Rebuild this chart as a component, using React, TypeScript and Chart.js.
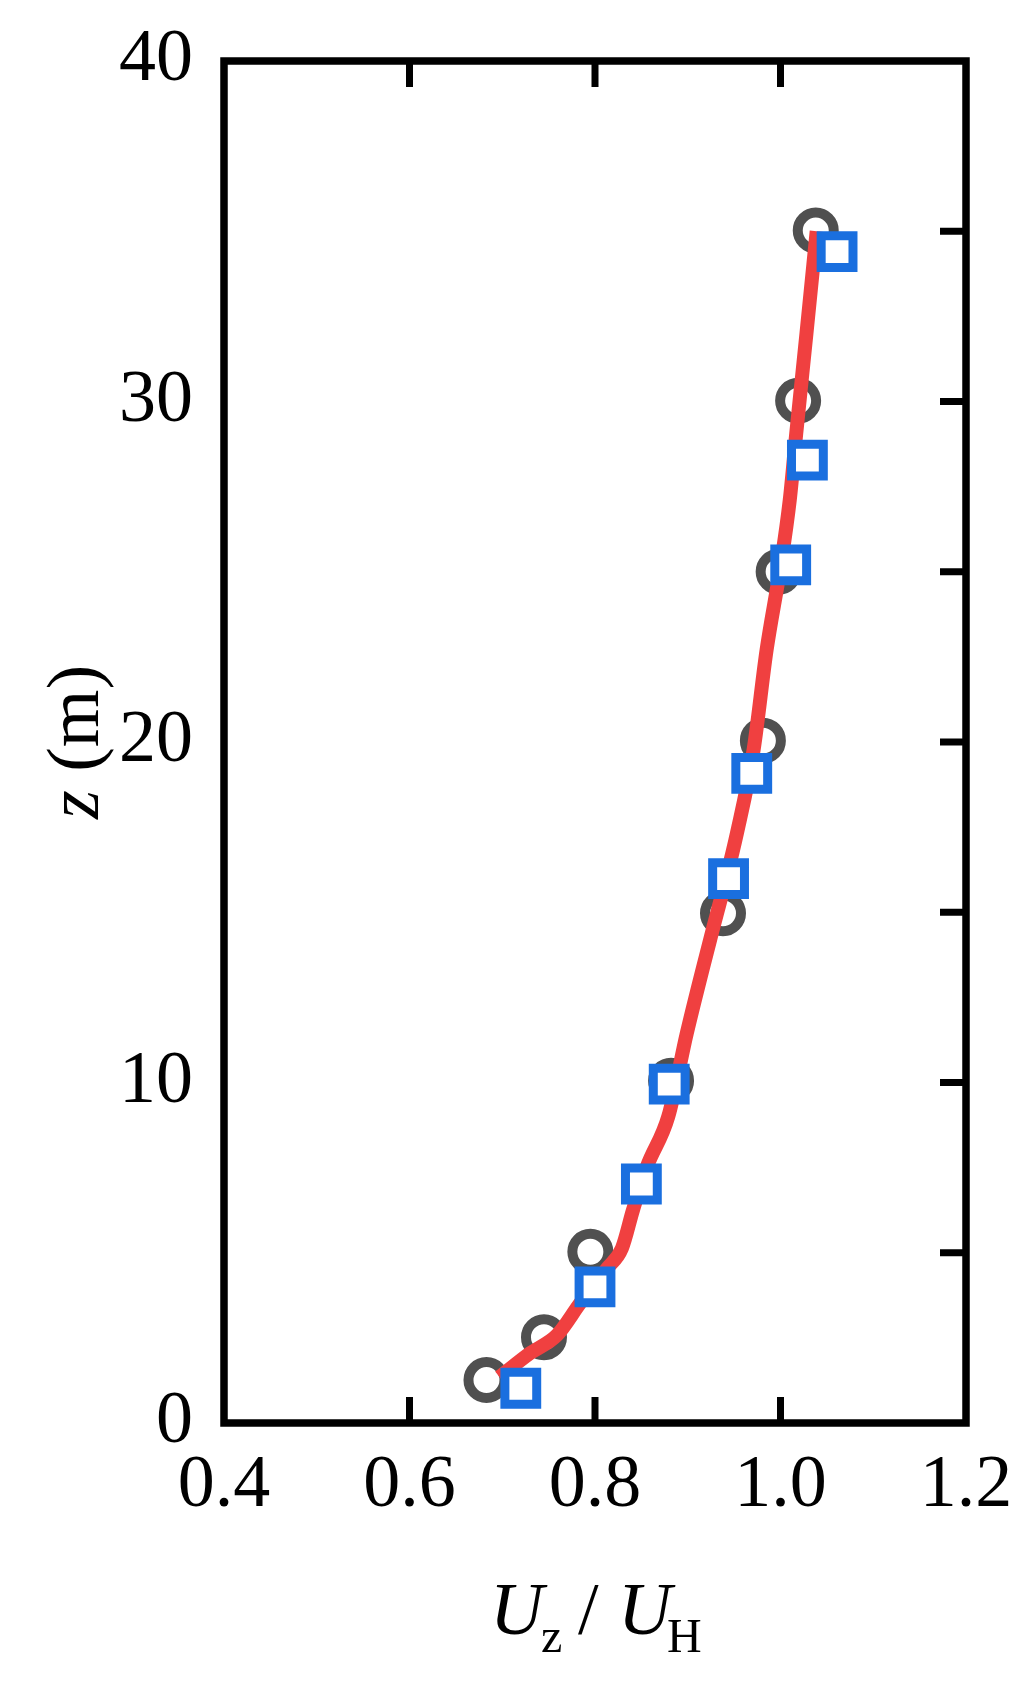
import React, { useEffect, useRef } from "react";
import { Chart, registerables } from "chart.js";

Chart.register(...registerables);

// Measured profile (circles)
const circleX = [0.683, 0.745, 0.795, 0.882, 0.938, 0.981, 0.998, 1.019, 1.038];
const circleZ = [1.26, 2.52, 5.03, 10.05, 14.97, 20.04, 25.0, 30.02, 35.02];

// Second measured profile (squares)
const squareX = [0.72, 0.8, 0.85, 0.88, 0.944, 0.969, 1.011, 1.029, 1.061];
const squareZ = [1.02, 4.0, 7.02, 9.95, 15.99, 19.08, 25.2, 28.28, 34.4];

// Fitted profile (red line)
const lineX = [0.697, 0.73, 0.759, 0.784, 0.813, 0.829, 0.841, 0.856, 0.879, 0.899, 0.924, 0.94, 0.953, 0.971, 0.985, 1.0, 1.01, 1.017, 1.028, 1.039];
const lineZ = [1.35, 2.05, 2.58, 3.52, 4.54, 5.13, 6.26, 7.53, 9.0, 11.45, 14.18, 15.85, 17.32, 19.77, 22.7, 25.15, 27.11, 29.07, 32.0, 35.0];

// Axis ticks
const xTickValues = [0.4, 0.6, 0.8, 1.0, 1.2];
const yTickValues = [0, 10, 20, 30, 40];
const xInnerTicks = [0.6, 0.8, 1.0];
const yRightTicks = [5, 10, 15, 20, 25, 30, 35];

const SERIF = "'Liberation Serif', 'Times New Roman', Times, serif";

const zip = (xs: number[], ys: number[]) => xs.map((x, i) => ({ x, y: ys[i] }));

const framePlugin = {
  id: "frame",
  afterDraw(chart: any) {
    const { ctx, chartArea } = chart;
    const xs = chart.scales.x;
    const ys = chart.scales.y;
    const { left, right, top, bottom } = chartArea;
    ctx.save();
    ctx.strokeStyle = "#000";
    ctx.lineCap = "butt";
    // inward ticks
    ctx.lineWidth = 7;
    const tl = 26;
    ctx.beginPath();
    xInnerTicks.forEach((v) => {
      const px = xs.getPixelForValue(v);
      ctx.moveTo(px, bottom);
      ctx.lineTo(px, bottom - tl);
      ctx.moveTo(px, top);
      ctx.lineTo(px, top + tl);
    });
    yRightTicks.forEach((v) => {
      const py = ys.getPixelForValue(v);
      ctx.moveTo(right, py);
      ctx.lineTo(right - tl, py);
    });
    ctx.stroke();
    // frame
    ctx.lineWidth = 7.5;
    ctx.lineJoin = "miter";
    ctx.strokeRect(left, top, right - left, bottom - top);

    // x-axis title: U_z / U_H
    ctx.fillStyle = "#000";
    ctx.textBaseline = "alphabetic";
    ctx.textAlign = "left";
    const base = 1634;
    const sub = 1652;
    ctx.font = `italic 74px ${SERIF}`;
    ctx.fillText("U", 490, base);
    ctx.font = `48px ${SERIF}`;
    ctx.fillText("z", 541, sub);
    ctx.font = `74px ${SERIF}`;
    ctx.fillText("/", 578, base);
    ctx.font = `italic 74px ${SERIF}`;
    ctx.fillText("U", 618, base);
    ctx.font = `48px ${SERIF}`;
    ctx.fillText("H", 667, sub);

    // y-axis title: z (m)
    ctx.translate(98, (top + bottom) / 2);
    ctx.rotate(-Math.PI / 2);
    ctx.font = `italic 74px ${SERIF}`;
    const wz = ctx.measureText("z").width;
    ctx.font = `74px ${SERIF}`;
    const wr = ctx.measureText(" (m)").width;
    const start = -(wz + wr) / 2;
    ctx.font = `italic 74px ${SERIF}`;
    ctx.fillText("z", start, 0);
    ctx.font = `74px ${SERIF}`;
    ctx.fillText(" (m)", start + wz, 0);
    ctx.restore();
  },
};

export default function App() {
  const ref = useRef<HTMLCanvasElement | null>(null);

  useEffect(() => {
    if (!ref.current) return;
    const chart = new Chart(ref.current, {
      type: "scatter",
      data: {
        datasets: [
          {
            label: "squares",
            data: zip(squareX, squareZ),
            pointStyle: "rect",
            pointRadius: 22.5,
            pointHoverRadius: 22.5,
            pointBorderWidth: 9,
            borderColor: "#1a6fdf",
            backgroundColor: "#ffffff",
            order: 1,
          } as any,
          {
            label: "line",
            data: zip(lineX, lineZ),
            showLine: true,
            pointRadius: 0,
            borderWidth: 14,
            borderColor: "#f04040",
            backgroundColor: "#f04040",
            cubicInterpolationMode: "monotone",
            borderJoinStyle: "round",
            order: 2,
          } as any,
          {
            label: "circles",
            data: zip(circleX, circleZ),
            pointStyle: "circle",
            pointRadius: 18,
            pointHoverRadius: 18,
            pointBorderWidth: 10,
            borderColor: "#505050",
            backgroundColor: "#ffffff",
            order: 3,
          } as any,
        ],
      },
      options: {
        responsive: false,
        animation: false,
        events: [],
        layout: { padding: { left: 0, top: 61, right: 68, bottom: 0 } },
        plugins: { legend: { display: false }, tooltip: { enabled: false } },
        scales: {
          x: {
            type: "linear",
            min: 0.4,
            max: 1.2,
            grid: { display: false, drawTicks: false },
            border: { display: false },
            afterBuildTicks: (s: any) => {
              s.ticks = xTickValues.map((v) => ({ value: v }));
            },
            afterFit: (s: any) => {
              s.height = 259;
              s.paddingLeft = 0;
              s.paddingRight = 0;
              s.paddingTop = 0;
              s.paddingBottom = 0;
            },
            ticks: {
              padding: 19,
              color: "#000",
              maxRotation: 0,
              font: { family: SERIF, size: 74 },
              callback: (v: any) => Number(v).toFixed(1),
            },
          },
          y: {
            type: "linear",
            min: 0,
            max: 40,
            grid: { display: false, drawTicks: false },
            border: { display: false },
            afterBuildTicks: (s: any) => {
              s.ticks = yTickValues.map((v) => ({ value: v }));
            },
            afterFit: (s: any) => {
              s.width = 224;
              s.paddingLeft = 0;
              s.paddingRight = 0;
              s.paddingTop = 0;
              s.paddingBottom = 0;
            },
            ticks: {
              padding: 31,
              color: "#000",
              font: { family: SERIF, size: 74 },
              callback: (v: any) => String(v),
            },
          },
        },
      },
      plugins: [framePlugin],
    });
    return () => chart.destroy();
  }, []);

  return (
    <div style={{ position: "absolute", left: 0, top: 0, width: 1034, height: 1682, background: "#fff" }}>
      <canvas ref={ref} width={1034} height={1682} style={{ display: "block", width: 1034, height: 1682 }} />
    </div>
  );
}
